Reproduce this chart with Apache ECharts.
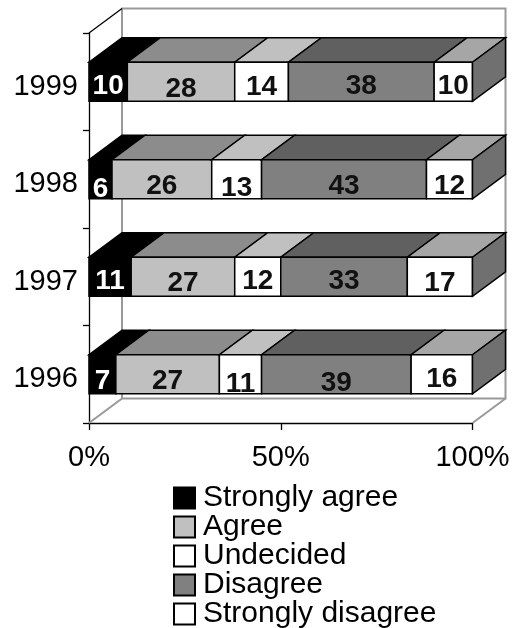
<!DOCTYPE html>
<html>
<head>
<meta charset="utf-8">
<style>html,body{margin:0;padding:0;background:#fff}#c{width:516px;height:628px}</style>
<script src="https://cdn.jsdelivr.net/npm/echarts@6/dist/echarts.min.js"></script>
</head>
<body>
<div id="c"></div>
<script>
const years = ['1996', '1997', '1998', '1999'];
const stronglyAgree = [7, 11, 6, 10];
const agree = [27, 27, 26, 28];
const undecided = [11, 12, 13, 14];
const disagree = [39, 33, 43, 38];
const stronglyDisagree = [16, 17, 12, 10];
const xTicks = [0, 50, 100];

const seriesNames = ['Strongly agree', 'Agree', 'Undecided', 'Disagree', 'Strongly disagree'];
const seriesValues = [stronglyAgree, agree, undecided, disagree, stronglyDisagree];
const frontColors = ['#000000', '#c0c0c0', '#ffffff', '#808080', '#ffffff'];
const topColors = ['#000000', '#8c8c8c', '#c0c0c0', '#606060', '#a6a6a6'];
const labelColors = ['#ffffff', '#111111', '#111111', '#111111', '#111111'];
const sideColor = '#707070';
const depthX = 33, depthY = 24.5, barH = 39;
const font = 'Liberation Sans, Arial, sans-serif';
// vertical nudge of each value label inside its bar (year row, then series)
const labelNudge = [
  [7.5, 7, 10.5, 9.5, 5],
  [5, 7, 5, 5, 7],
  [10, 7.5, 9.5, 7.5, 7.5],
  [5, 8, 6, 5, 5]
];

function barItem(si) {
  return function (params, api) {
    const yi = api.value(0);
    const start = api.value(1), end = api.value(2);
    const a = api.coord([start, yi]);
    const b = api.coord([end, yi]);
    const x0 = a[0], x1 = b[0], top = a[1] - barH / 2, bot = a[1] + barH / 2;
    const line = { stroke: '#000', lineWidth: 1.5 };
    const kids = [
      { type: 'polygon', shape: { points: [[x0, top], [x1, top], [x1 + depthX, top - depthY], [x0 + depthX, top - depthY]] },
        style: Object.assign({ fill: topColors[si] }, line) },
      { type: 'rect', shape: { x: x0, y: top, width: x1 - x0, height: barH },
        style: Object.assign({ fill: frontColors[si] }, line) }
    ];
    if (si === seriesNames.length - 1) {
      kids.push({ type: 'polygon', shape: { points: [[x1, top], [x1 + depthX, top - depthY], [x1 + depthX, bot - depthY], [x1, bot]] },
        style: Object.assign({ fill: sideColor }, line) });
    }
    kids.push({ type: 'text', style: {
      x: (x0 + x1) / 2, y: a[1] + labelNudge[yi][si], text: String(api.value(3)), align: 'center', verticalAlign: 'middle',
      fill: labelColors[si], font: 'bold 28px ' + font } });
    return { type: 'group', children: kids };
  };
}

function wallItem(params) {
  const c = params.coordSys;
  const L = c.x, R = c.x + c.width, T = c.y, B = c.y + c.height;
  const g = { stroke: '#999999', lineWidth: 2, fill: null };
  return { type: 'group', children: [
    { type: 'polyline', shape: { points: [[L + depthX, B - depthY], [L + depthX, T - depthY], [R + depthX, T - depthY], [R + depthX, B - depthY], [L + depthX, B - depthY]] }, style: g },
    { type: 'line', shape: { x1: L, y1: B, x2: L + depthX, y2: B - depthY }, style: g },
    { type: 'line', shape: { x1: R, y1: B, x2: R + depthX, y2: B - depthY }, style: g },
    { type: 'line', shape: { x1: L, y1: T, x2: L + depthX, y2: T - depthY }, style: { stroke: '#000', lineWidth: 1.3 } }
  ] };
}

const barSeries = seriesNames.map((name, si) => ({
  name, type: 'custom', coordinateSystem: 'cartesian2d', z: 3,
  itemStyle: { color: frontColors[si], borderColor: '#000', borderWidth: 1.5 },
  renderItem: barItem(si),
  encode: { y: 0, x: [1, 2] },
  data: years.map((y, yi) => {
    let s = 0;
    for (let k = 0; k < si; k++) s += seriesValues[k][yi];
    return [yi, s, s + seriesValues[si][yi], seriesValues[si][yi]];
  })
}));

const chart = echarts.init(document.getElementById('c'), null, { renderer: 'canvas' });
chart.setOption({
  animation: false,
  backgroundColor: '#fff',
  textStyle: { fontFamily: font },
  grid: { left: 89, top: 33, width: 383.5, height: 390, containLabel: false },
  xAxis: {
    type: 'value', min: xTicks[0], max: xTicks[2], interval: xTicks[1],
    splitLine: { show: false },
    axisLine: { show: true, lineStyle: { color: '#000', width: 1.3 } },
    axisTick: { show: true, length: 7, lineStyle: { color: '#000', width: 1.3 } },
    axisLabel: { color: '#000', fontSize: 29, fontFamily: font, margin: 20, formatter: '{value}%', hideOverlap: false,
      showMinLabel: true, showMaxLabel: true, alignMinLabel: 'center', alignMaxLabel: 'center' }
  },
  yAxis: {
    type: 'category', data: years,
    splitLine: { show: false },
    axisLine: { show: true, lineStyle: { color: '#000', width: 1.3 } },
    axisTick: { show: true, length: 6, alignWithLabel: false, lineStyle: { color: '#000', width: 1.3 } },
    axisLabel: { color: '#000', fontSize: 29, fontFamily: font, margin: 11, verticalAlign: 'top', lineHeight: 10 }
  },
  legend: {
    orient: 'vertical', left: 173, top: 483, height: 150, padding: 0, itemWidth: 21, itemHeight: 21, itemGap: -1,
    data: seriesNames.map(n => ({ name: n, icon: 'rect' })),
    selectedMode: false,
    textStyle: { color: '#000', fontSize: 30, fontFamily: font, padding: [0, 0, 0, 3], lineHeight: 29 }
  },
  series: [
    { type: 'custom', coordinateSystem: 'cartesian2d', silent: true, z: 1, renderItem: wallItem, data: [[0, 0]], encode: { x: 0, y: 1 } }
  ].concat(barSeries)
});
</script>
</body>
</html>
